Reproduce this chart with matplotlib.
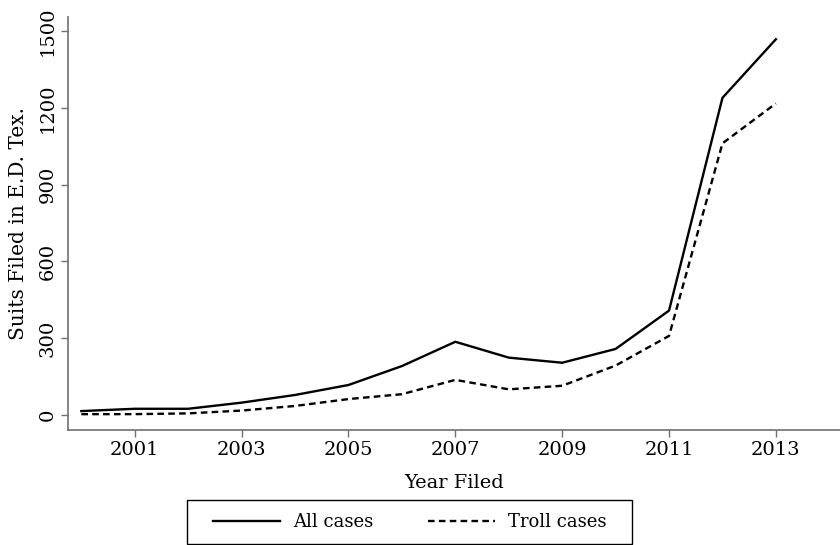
import matplotlib
matplotlib.use("Agg")
import matplotlib.pyplot as plt
from matplotlib.patches import Rectangle

# data
years = [2000, 2001, 2002, 2003, 2004, 2005, 2006, 2007, 2008, 2009, 2010, 2011, 2012, 2013]
all_cases = [14, 23, 23, 47, 77, 116, 190, 285, 223, 203, 257, 407, 1239, 1468]
troll_cases = [2, 2, 5, 16, 34, 61, 80, 136, 99, 113, 192, 308, 1061, 1217]
x_ticks = [2001, 2003, 2005, 2007, 2009, 2011, 2013]
y_ticks = [0, 300, 600, 900, 1200, 1500]

plt.rcParams['font.family'] = ['DejaVu Serif']
plt.rcParams['font.size'] = 14

fig = plt.figure(figsize=(8.4, 5.45), dpi=100)
ax = fig.add_axes([68 / 840, 1 - 430 / 545, 1 - 68 / 840, (430 - 17) / 545])

ax.plot(years, all_cases, color='black', linestyle='-', linewidth=1.7, label="All cases")
ax.plot(years, troll_cases, color='black', linestyle=(0, (2.8, 1.8)), linewidth=1.7, label="Troll cases")

ax.set_xlim(1999.75, 2014.2)
ax.set_ylim(-60, 1555)
ax.set_xticks(x_ticks)
ax.set_yticks(y_ticks)
ax.set_yticklabels([str(v) for v in y_ticks], rotation=90, va='center')

ax.set_xlabel("Year Filed", labelpad=11, fontsize=14)
ax.set_ylabel("Suits Filed in E.D. Tex.", labelpad=8, fontsize=14.5)

for s in ['top', 'right']:
    ax.spines[s].set_visible(False)
for s in ['left', 'bottom']:
    ax.spines[s].set_color('#707070')
    ax.spines[s].set_linewidth(1.2)
ax.tick_params(colors='#707070', labelcolor='black', length=5, width=1, pad=3)

# legend below the plot, with a plain box around it
leg = ax.legend(loc='center', bbox_to_anchor=(410 / 840, 1 - 522 / 545), bbox_transform=fig.transFigure,
                ncol=2, frameon=False, handlelength=3.7,
                handletextpad=0.75, columnspacing=3.0, fontsize=13)
fig.patches.append(Rectangle((187 / 840, 1 - 544 / 545), (632 - 187) / 840, 44 / 545,
                             transform=fig.transFigure, fill=False, edgecolor='black', linewidth=1.0))

fig.savefig("out.png", dpi=100)
